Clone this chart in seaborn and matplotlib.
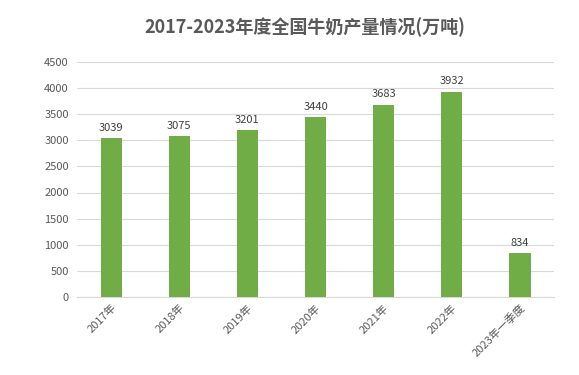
import matplotlib
matplotlib.use("Agg")
import matplotlib.pyplot as plt
import seaborn as sns
import pandas as pd

categories = ["2017年", "2018年", "2019年", "2020年", "2021年", "2022年", "2023年一季度"]
values = [3039, 3075, 3201, 3440, 3683, 3932, 834]
yticks = [0, 500, 1000, 1500, 2000, 2500, 3000, 3500, 4000, 4500]
title = "2017-2023年度全国牛奶产量情况(万吨)"

sns.set_theme(style="white")
plt.rcParams['font.family'] = ['Noto Sans CJK SC', 'DejaVu Sans']

df = pd.DataFrame({"cat": categories, "val": values})

fig = plt.figure(figsize=(5.79, 3.75), dpi=100)
ax = fig.add_axes([0.133, 0.208, 0.824, 0.627])
sns.barplot(data=df, x="cat", y="val", color="#70AD47", saturation=1, width=0.31,
            ax=ax, zorder=3, linewidth=0)

ax.set_ylim(0, 4500)
ax.set_yticks(yticks)
ax.set_yticklabels([str(t) for t in yticks], fontsize=8, color="#595959")
ax.yaxis.grid(True, color="#d9d9d9", linewidth=0.8, zorder=0)
ax.set_axisbelow(True)
for s in ["top", "right", "left"]:
    ax.spines[s].set_visible(False)
ax.spines["bottom"].set_color("#d9d9d9")
ax.spines["bottom"].set_linewidth(0.8)
ax.tick_params(axis="both", length=0, pad=6)
ax.set_xlabel("")
ax.set_ylabel("")
ax.set_xticks(range(len(categories)))
ax.set_xticklabels(categories, rotation=45, ha="right", rotation_mode="anchor", fontsize=8, color="#595959")
ax.tick_params(axis="x", pad=4)

for i, v in enumerate(values):
    ax.text(i, v + 100, str(v), ha="center", va="bottom", fontsize=8, color="#404040")

fig.text(0.527, 0.928, title, ha="center", va="center", fontsize=13, fontweight="bold", color="#595959")

fig.savefig("out.png", dpi=100, facecolor="white")
